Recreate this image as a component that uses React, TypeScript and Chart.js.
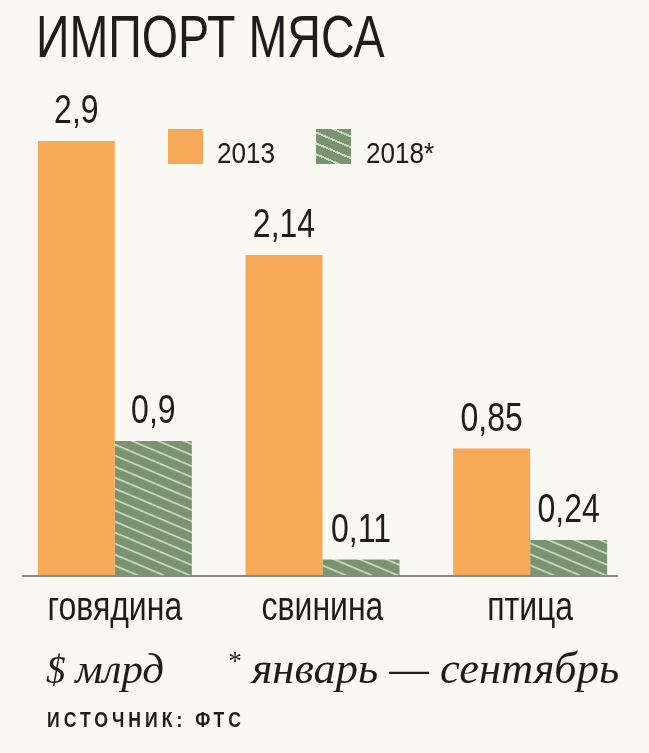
import React, { useEffect, useRef } from "react";
import { Chart, registerables } from "chart.js";

Chart.register(...registerables);

const title = "ИМПОРТ МЯСА";
const categories = ["говядина", "свинина", "птица"];
const seriesNames = ["2013", "2018*"];
const values2013 = [2.9, 2.14, 0.85];
const values2018 = [0.9, 0.11, 0.24];
const unitSign = "$";
const unitNote = "млрд";
const periodMark = "*";
const periodNote = "январь — сентябрь";
const sourceNote = "ИСТОЧНИК: ФТС";

const BG = "#f9f8f3";
const ORANGE = "#f6aa59";
const GREEN = "#7a9471";
const STRIPE = "#c9d5bd";
const TEXT = "#1d1d1b";
const AXIS = "#8d8a85";
const SANS = '"Liberation Sans", Arial, sans-serif';
const SERIF = '"Liberation Serif", "DejaVu Serif", serif';

function makeHatch(): CanvasPattern | string {
  const w = 26;
  const h = 11;
  const c = document.createElement("canvas");
  c.width = w;
  c.height = h;
  const g = c.getContext("2d");
  if (!g) return GREEN;
  g.fillStyle = GREEN;
  g.fillRect(0, 0, w, h);
  g.strokeStyle = STRIPE;
  g.lineWidth = 1.8;
  for (let k = -1; k <= 1; k++) {
    g.beginPath();
    g.moveTo(0, k * h);
    g.lineTo(w, h + k * h);
    g.stroke();
  }
  const p = g.createPattern(c, "repeat");
  return p || GREEN;
}

function narrowText(ctx: CanvasRenderingContext2D, text: string, x: number, y: number, sx: number) {
  ctx.save();
  ctx.translate(x, y);
  ctx.scale(sx, 1);
  ctx.fillText(text, 0, 0);
  ctx.restore();
}

const overlayPlugin = {
  id: "overlay",
  afterDatasetsDraw(chart: any) {
    const ctx = chart.ctx as CanvasRenderingContext2D;
    const area = chart.chartArea;
    const xs = chart.scales.x;
    const y0 = chart.scales.y.getPixelForValue(0);
    ctx.save();
    ctx.strokeStyle = AXIS;
    ctx.lineWidth = 2;
    ctx.beginPath();
    ctx.moveTo(area.left + 11, y0);
    ctx.lineTo(area.right - 16, y0);
    ctx.stroke();
    ctx.fillStyle = TEXT;
    ctx.textAlign = "center";
    ctx.textBaseline = "alphabetic";
    ctx.font = `40px ${SANS}`;
    chart.data.datasets.forEach((ds: any, di: number) => {
      const meta = chart.getDatasetMeta(di);
      meta.data.forEach((el: any, i: number) => {
        const v = ds.data[i];
        narrowText(ctx, String(v).replace(".", ","), el.x, el.y - 18, 0.8);
      });
    });
    ctx.font = `41px ${SANS}`;
    chart.data.labels.forEach((lab: string, i: number) => {
      narrowText(ctx, lab, xs.getPixelForValue(i), y0 + 44, 0.78);
    });
    ctx.restore();
  },
};

export default function App() {
  const ref = useRef<HTMLCanvasElement | null>(null);

  useEffect(() => {
    document.body.style.margin = "0";
    document.body.style.background = BG;
    document.documentElement.style.background = BG;
    if (!ref.current) return;
    const chart = new Chart(ref.current, {
      type: "bar",
      data: {
        labels: categories,
        datasets: [
          { label: seriesNames[0], data: values2013, backgroundColor: ORANGE, borderWidth: 0 },
          { label: seriesNames[1], data: values2018, backgroundColor: makeHatch() as any, borderWidth: 0 },
        ],
      },
      options: {
        responsive: false,
        animation: false,
        events: [],
        layout: { padding: { left: 11, right: 15, top: 96, bottom: 177 } },
        datasets: { bar: { categoryPercentage: 0.7416, barPercentage: 1 } },
        plugins: {
          legend: { display: false },
          tooltip: { enabled: false },
          title: { display: false },
        },
        scales: {
          x: { display: false },
          y: { display: false, min: 0, max: 3.2 },
        },
      },
      plugins: [overlayPlugin],
    });
    return () => chart.destroy();
  }, []);

  const narrow = (s: React.CSSProperties, sx: number): React.CSSProperties => ({
    position: "absolute",
    whiteSpace: "nowrap",
    color: TEXT,
    margin: 0,
    fontFamily: SANS,
    transform: `scaleX(${sx})`,
    transformOrigin: "left top",
    ...s,
  });
  const plain = (s: React.CSSProperties): React.CSSProperties => ({
    position: "absolute",
    whiteSpace: "nowrap",
    color: TEXT,
    margin: 0,
    ...s,
  });

  return (
    <div style={{ position: "relative", width: 649, height: 753, background: BG, overflow: "hidden" }}>
      <div style={narrow({ left: 36, top: 8, fontSize: 59, lineHeight: "59px" }, 0.79)}>{title}</div>
      <canvas ref={ref} width={649} height={753} style={{ position: "absolute", left: 0, top: 0, width: 649, height: 753 }} />
      <div style={plain({ left: 168, top: 129, width: 35, height: 35, background: ORANGE })} />
      <div style={narrow({ left: 217, top: 138.5, fontSize: 29, lineHeight: "29px" }, 0.9)}>{seriesNames[0]}</div>
      <div
        style={plain({
          left: 316,
          top: 129,
          width: 35,
          height: 35,
          background: `repeating-linear-gradient(23deg, ${GREEN} 0px, ${GREEN} 8px, ${STRIPE} 8px, ${STRIPE} 10px)`,
        })}
      />
      <div style={narrow({ left: 366, top: 138.5, fontSize: 29, lineHeight: "29px" }, 0.9)}>{seriesNames[1]}</div>
      <div style={plain({ left: 46, top: 647, fontFamily: SERIF, fontStyle: "italic", fontSize: 43, lineHeight: "43px" })}>
        <span style={{ fontSize: 39 }}>{unitSign} </span>
        {unitNote}
      </div>
      <div style={plain({ left: 227, top: 647, fontFamily: SERIF, fontStyle: "italic", fontSize: 44.5, lineHeight: "43px" })}>
        <span style={{ fontSize: 27, position: "relative", top: -13 }}>{periodMark}</span> {periodNote}
      </div>
      <div
        style={narrow(
          {
            left: 47,
            top: 709,
            fontWeight: "bold",
            fontSize: 22,
            lineHeight: "22px",
            letterSpacing: "5px",
          },
          0.8
        )}
      >
        {sourceNote}
      </div>
    </div>
  );
}
